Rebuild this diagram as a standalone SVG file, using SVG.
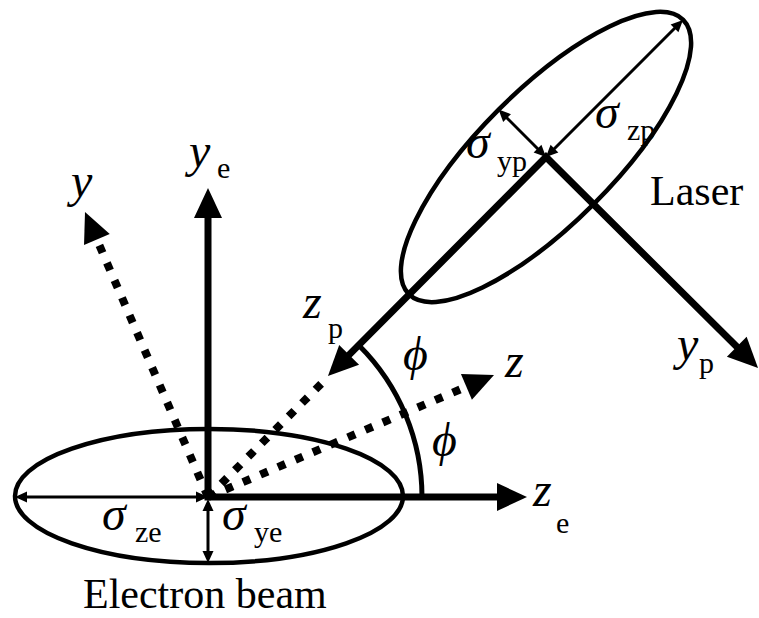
<svg xmlns="http://www.w3.org/2000/svg" width="759" height="618" viewBox="0 0 759 618" font-family="'Liberation Serif', 'Times New Roman', serif">
<style>
text{font-family:'Liberation Serif','Times New Roman',serif;fill:#000}
.it{font-style:italic;font-size:48px}
.sub{font-size:30px}
.lab{font-size:42px}
.beam{fill:none;stroke:#000;stroke-width:4.5}
.axis{fill:none;stroke:#000;stroke-width:7;stroke-linejoin:miter}
.dot{fill:none;stroke:#000;stroke-width:8;stroke-dasharray:8 11}
.dim{fill:none;stroke:#000;stroke-width:3}
.arc{fill:none;stroke:#000;stroke-width:5}
</style>
<defs>
<marker id="big" markerUnits="userSpaceOnUse" markerWidth="32" markerHeight="30" refX="4" refY="14" orient="auto-start-reverse" overflow="visible">
<path d="M0,0 L30,14 L0,28 z" fill="#000"/>
</marker>
<marker id="small" markerUnits="userSpaceOnUse" markerWidth="14" markerHeight="12" refX="8" refY="5.5" orient="auto-start-reverse" overflow="visible">
<path d="M0,0 L12,5.5 L0,11 z" fill="#000"/>
</marker>
</defs>

<g id="connectors">
<line class="dot" x1="208" y1="497" x2="95.3" y2="235.9" marker-end="url(#big)"/>
<line class="dot" x1="208" y1="497" x2="470.1" y2="385.2" marker-end="url(#big)"/>
<line class="dot" x1="208" y1="497" x2="328" y2="377"/>
<polyline class="axis" points="208,214 208,497 501,497" marker-start="url(#big)" marker-end="url(#big)"/>
<polyline class="axis" points="346.3,357.6 546,157 739.6,349.6" marker-start="url(#big)" marker-end="url(#big)"/>
<path class="arc" d="M359.3,345.7 A214 214 0 0 1 422,497"/>
</g>

<g id="electron-beam">
<ellipse class="beam" cx="209" cy="496" rx="194" ry="67"/>
<line class="dim" x1="19" y1="497" x2="204" y2="497" marker-start="url(#small)" marker-end="url(#small)"/>
<line class="dim" x1="208" y1="503" x2="208" y2="559" marker-start="url(#small)" marker-end="url(#small)"/>
<text class="it" x="102" y="530">σ</text><text class="sub" x="135" y="542">ze</text>
<text class="it" x="222" y="530">σ</text><text class="sub" x="254" y="542">ye</text>
<text class="lab" x="83" y="608">Electron beam</text>
</g>

<g id="laser">
<ellipse class="beam" cx="0" cy="0" rx="194" ry="67" transform="translate(546,157) rotate(-45)"/>
<line class="dim" x1="543.2" y1="154.2" x2="501.4" y2="112.4" marker-start="url(#small)" marker-end="url(#small)"/>
<line class="dim" x1="548.8" y1="154.2" x2="680.2" y2="22.8" marker-start="url(#small)" marker-end="url(#small)"/>
<text class="it" x="466" y="158">σ</text><text class="sub" x="497" y="171">yp</text>
<text class="it" x="595" y="128">σ</text><text class="sub" x="627" y="140">zp</text>
<text class="lab" x="650" y="205">Laser</text>
</g>

<g id="labels">
<text class="it" x="189" y="167">y</text><text class="sub" x="217" y="178">e</text>
<text class="it" x="71" y="197">y</text>
<text class="it" x="505" y="377">z</text>
<text class="it" x="533" y="506">z</text><text class="sub" x="556" y="533">e</text>
<text class="it" x="303" y="318">z</text><text class="sub" x="328" y="338">p</text>
<text class="it" x="677" y="360">y</text><text class="sub" x="699" y="373">p</text>
<text class="it" x="403" y="370">ϕ</text>
<text class="it" x="432" y="456">ϕ</text>
</g>
</svg>
